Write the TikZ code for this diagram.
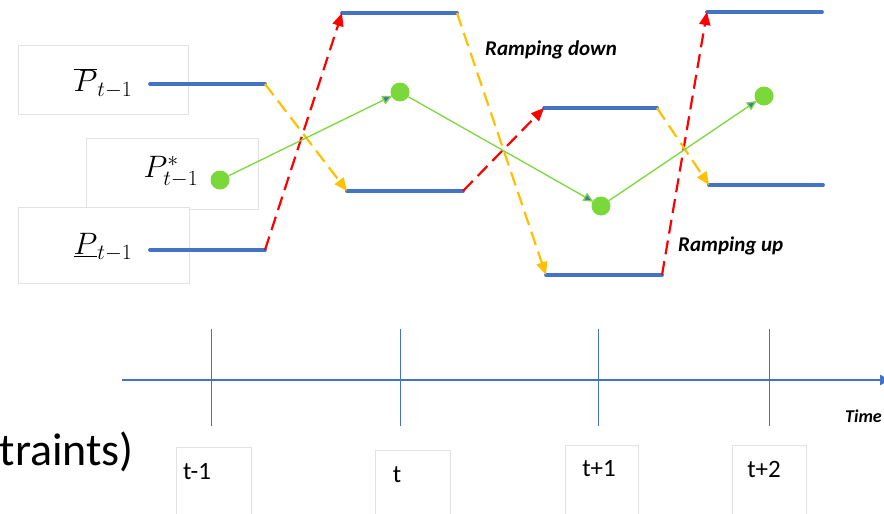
\RequirePackage{fix-cm}
\documentclass[tikz,border=0pt]{standalone}
\usepackage{fontspec}
\setmainfont{Carlito}
\usetikzlibrary{arrows.meta}
\definecolor{lineblue}{HTML}{4472C4}
\definecolor{rampred}{HTML}{FF0000}
\definecolor{rampgold}{HTML}{FFC000}
\definecolor{setgreen}{HTML}{7AD83A}
\definecolor{boxgrey}{HTML}{E2E2E2}
\tikzset{
  level/.style={lineblue, line width=3.8pt, line cap=round},
  upramp/.style={rampred, line width=2.2pt, dash pattern=on 14pt off 7pt, -{Triangle[length=13pt,width=11pt]}},
  downramp/.style={rampgold, line width=2.2pt, dash pattern=on 14pt off 7pt, -{Triangle[length=13pt,width=11pt]}},
  setpoint/.style={circle, fill=setgreen, inner sep=0pt, minimum size=19pt},
  track/.style={setgreen, line width=1.3pt, -{Triangle[length=10pt,width=9pt,fill=lineblue]}, shorten >=-1pt},
  labelbox/.style={draw=boxgrey, fill=white, line width=0.8pt},
  mathlabel/.style={font=\fontsize{31}{36}\selectfont, inner sep=0pt},
  ramptext/.style={font=\fontsize{21}{25}\selectfont\bfseries\itshape, inner sep=0pt},
  ticklabel/.style={font=\fontsize{25}{29}\selectfont, inner sep=0pt},
  tick/.style={lineblue, line width=1pt},
}
\begin{document}
\begin{tikzpicture}[x=1pt,y=-1pt]
\useasboundingbox (0,0) rectangle (884,514);

% label boxes on the left
\draw[labelbox] (18,45) rectangle (188,114);
\draw[labelbox] (86,138) rectangle (258,209);
\draw[labelbox] (18,207) rectangle (189,283);
\node[mathlabel] (pmax) at (103,83) {$\overline{P}_{t-1}$};
\node[mathlabel] (pset) at (171,172) {$P^{*}_{t-1}$};
\node[mathlabel] (pmin) at (103,247) {$\underline{P}_{t-1}$};

% power limits per period
\coordinate (a1) at (150,84);  \coordinate (a2) at (265,84);
\coordinate (b1) at (150,250); \coordinate (b2) at (265,250);
\coordinate (c1) at (342,13);  \coordinate (c2) at (457,13);
\coordinate (d1) at (347,191); \coordinate (d2) at (463,191);
\coordinate (e1) at (544,108); \coordinate (e2) at (657,108);
\coordinate (f1) at (546,275); \coordinate (f2) at (662,275);
\coordinate (g1) at (707,12);  \coordinate (g2) at (822,12);
\coordinate (h1) at (709,185); \coordinate (h2) at (823,185);
\foreach \s in {a,b,c,d,e,f,g,h} \draw[level] (\s1) -- (\s2);

% ramping limits
\draw[upramp] (b2) -- (c1);
\draw[upramp] (d2) -- (e1);
\draw[upramp] (f2) -- (g1);
\draw[downramp] (a2) -- (d1);
\draw[downramp] (c2) -- (f1);
\draw[downramp] (e2) -- (h1);

\node[ramptext, anchor=west] (rdown) at (485,50) {Ramping down};
\node[ramptext, anchor=west] (rup) at (678,246) {Ramping up};

% set-point trajectory
\node[setpoint] (s0) at (220,180) {};
\node[setpoint] (s1) at (400,92) {};
\node[setpoint] (s2) at (601,206) {};
\node[setpoint] (s3) at (764,96) {};
\draw[track] (s0) -- (s1);
\draw[track] (s1) -- (s2);
\draw[track] (s2) -- (s3);

% time axis
\coordinate (ax0) at (122,380);
\coordinate (ax1) at (890,380);
\draw[lineblue, line width=2.6pt, -{Triangle[length=10pt,width=10pt]}] (ax0) -- (ax1);
\foreach \x in {211,400,598,769} \draw[tick] (\x,329) -- (\x,426);
\node[font=\fontsize{18}{21}\selectfont\bfseries\itshape, inner sep=0pt, anchor=east] (time) at (882,416) {Time};

% period labels
\draw[labelbox] (176,447) rectangle (251,520);
\draw[labelbox] (375,450) rectangle (450,520);
\draw[labelbox] (565,445) rectangle (638,520);
\draw[labelbox] (732,445) rectangle (806,520);
\node[ticklabel] (l1) at (197,472) {t-1};
\node[ticklabel] (l2) at (397,475) {t};
\node[ticklabel] (l3) at (599,469) {t+1};
\node[ticklabel] (l4) at (764,469) {t+2};

\node[font=\fontsize{46}{52}\selectfont, inner sep=0pt, anchor=east] (tail) at (134,452) {traints)};
\end{tikzpicture}
\end{document}
